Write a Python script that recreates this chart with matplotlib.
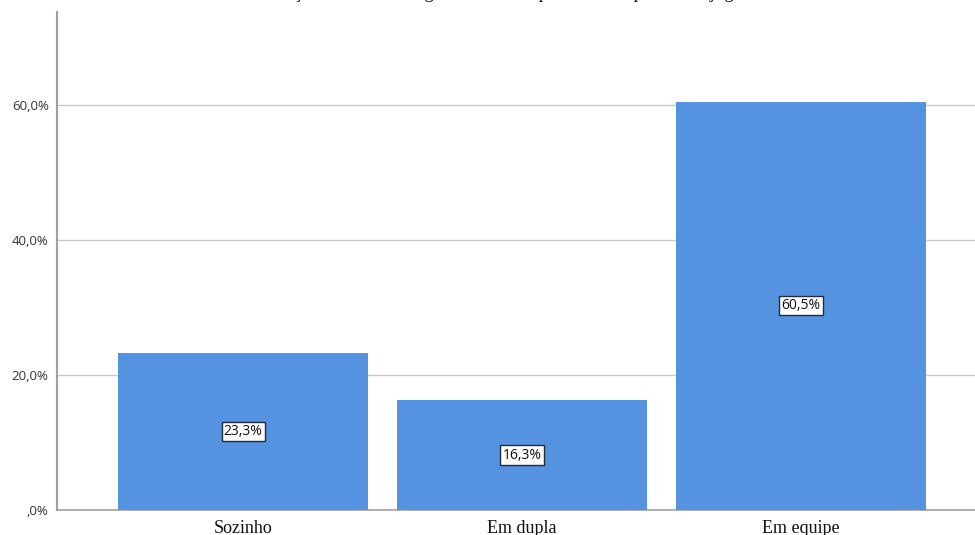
import matplotlib
matplotlib.use("Agg")
import matplotlib.pyplot as plt
from matplotlib.ticker import FuncFormatter

categories = ["Sozinho", "Em dupla", "Em equipe"]
percentages = [23.3, 16.3, 60.5]
y_ticks = [0, 20, 40, 60]
title = "Distribuição dos alunos segundo a forma preferida de praticar o jogo"

W, H = 975, 535
fig = plt.figure(figsize=(W / 100, H / 100), dpi=100)
fig.patch.set_facecolor("white")

# axes box in pixel terms: left spine at x=57, zero line at y=510, top at y=12
left, right, bottom, top = 57, 975, 510, 12
ax = fig.add_axes([left / W, 1 - bottom / H, (right - left) / W, (bottom - top) / H])

bar_color = "#5592E0"
x = list(range(len(categories)))
ax.bar(x, percentages, width=0.896, color=bar_color, zorder=3)

ax.set_xlim(-0.667, 2.624)
ax.set_ylim(0, 73.8)
ax.set_yticks(y_ticks)

def pct(v, _pos):
    s = f"{v:.1f}".replace(".", ",")
    if s.startswith("0,"):
        s = s[1:]
    return s + "%"

ax.yaxis.set_major_formatter(FuncFormatter(pct))
ax.tick_params(axis="y", length=0, pad=6, labelsize=9.5, labelcolor="#333333")
for lab in ax.get_yticklabels():
    lab.set_family("Open Sans")

ax.set_xticks(x)
ax.set_xticklabels(categories, family="Liberation Serif", fontsize=13, color="#111111")
ax.tick_params(axis="x", length=0, pad=7)

ax.grid(axis="y", color="#c8c8c8", linewidth=1.0, zorder=0)
ax.set_axisbelow(True)

for side in ("top", "right"):
    ax.spines[side].set_visible(False)
ax.spines["left"].set_color("#a0a0a0")
ax.spines["left"].set_linewidth(1.5)
ax.spines["bottom"].set_color("#a0a0a0")
ax.spines["bottom"].set_linewidth(1.2)

# value labels centred inside each bar
for xi, v in zip(x, percentages):
    ax.text(xi, v / 2, f"{v:.1f}".replace(".", ",") + "%",
            ha="center", va="center", fontsize=10, family="Open Sans",
            color="#111111", zorder=5,
            bbox=dict(boxstyle="square,pad=0.15", facecolor="white",
                      edgecolor="#1f2d3d", linewidth=1.0))

# chart title: only its lowest strokes fall inside the image
fig.text(0.497, 1 + 1.5 / H, title, ha="center", va="baseline",
         family="Liberation Serif", fontsize=13.5, color="#111111")

fig.savefig("out.png", dpi=100, facecolor="white")
